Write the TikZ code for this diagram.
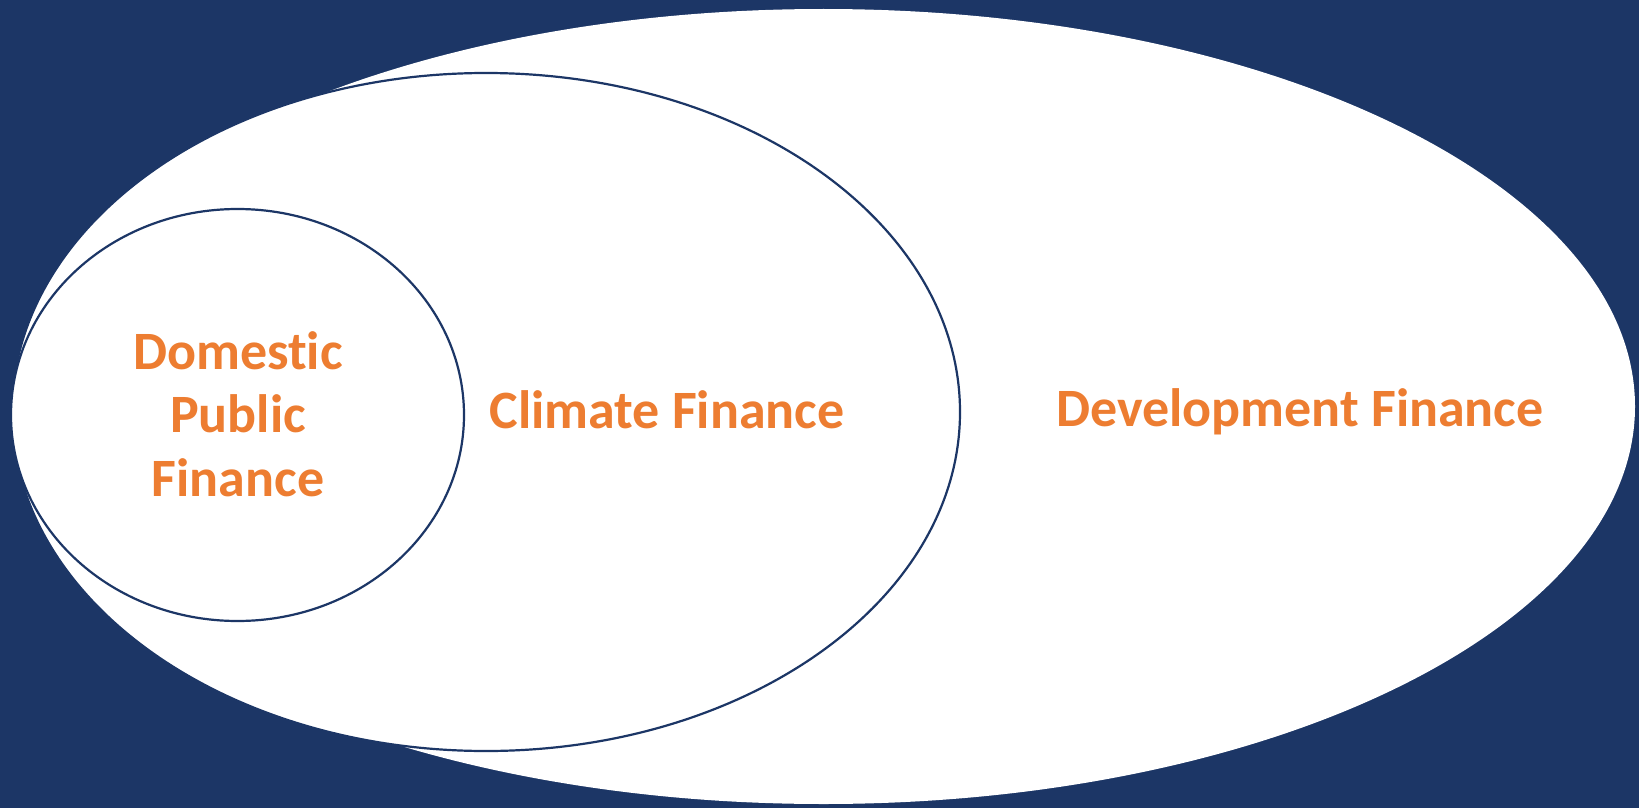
\documentclass[tikz,border=0pt]{standalone}
\usepackage{fontspec}
\setmainfont{Carlito}[RawFeature={-liga,-dlig,-clig}]
\definecolor{navy}{HTML}{1C3666}
\definecolor{lblorange}{HTML}{ED7D31}
\begin{document}
\begin{tikzpicture}[x=1pt,y=-1pt,
  ring/.style={draw=navy,line width=2.2pt,fill=white},
  lbl/.style={text=lblorange,font=\fontsize{54}{63.5}\selectfont\bfseries,align=center,inner sep=0pt}]
\fill[navy] (0,0) rectangle (1639,808);
\useasboundingbox (0,0) rectangle (1639,808);
\fill[white] (823.5,406.5) ellipse [x radius=811.5, y radius=397.5];
\path[ring] (486,412) ellipse [x radius=474, y radius=339];
\path[ring] (237.5,415) ellipse [x radius=226.5, y radius=206];
\node[lbl] (dpf) at (238,414) {Domestic\\Public\\Finance};
\node[lbl] (cf) at (667,410) {Climate Finance};
\node[lbl] (df) at (1300,412) {Development Finance};
\end{tikzpicture}
\end{document}
